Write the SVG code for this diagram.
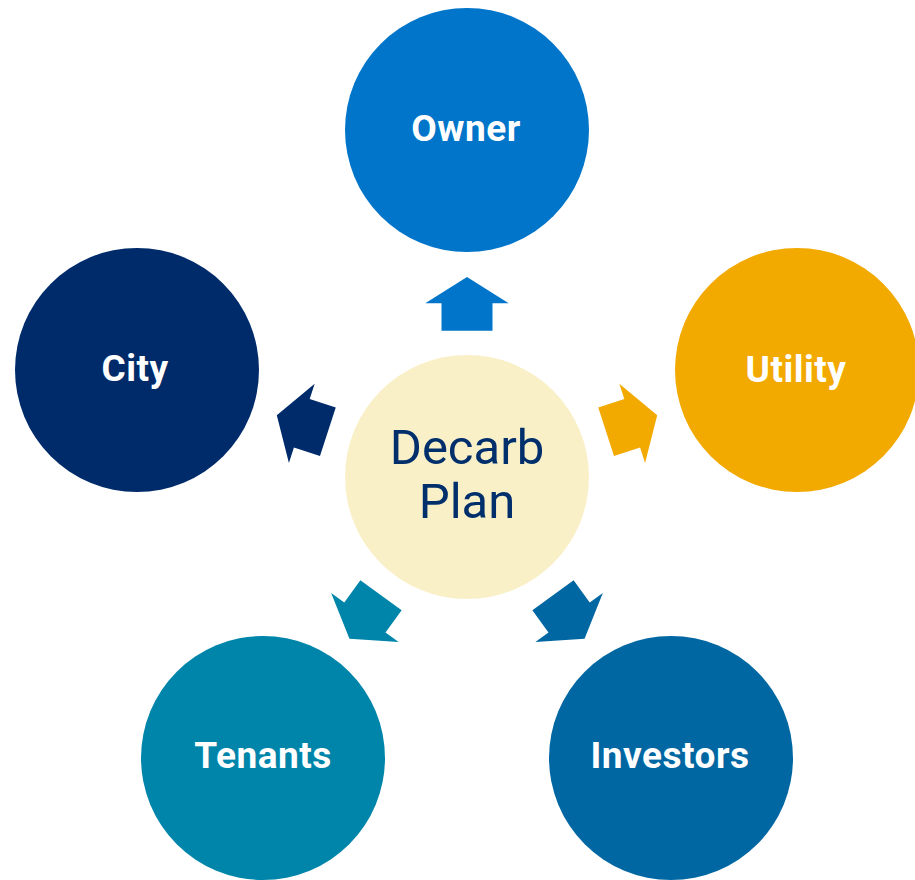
<svg xmlns="http://www.w3.org/2000/svg" width="915" height="880" viewBox="0 0 915 880">
<defs>
<style>
.lbl{font-family:Roboto,"Liberation Sans",sans-serif;font-weight:700;font-size:37px;letter-spacing:0.5px;fill:#fff;text-anchor:middle}
.ctr{font-family:Roboto,"Liberation Sans",sans-serif;font-size:49px;fill:#002F6C;text-anchor:middle}
</style>
<polygon id="arr" points="0,-200 41.7,-173.7 25.5,-173.7 25.5,-146.3 -25.5,-146.3 -25.5,-173.7 -41.7,-173.7"/>
</defs>
<rect width="915" height="880" fill="#fff"/>
<g id="connectors" transform="translate(467,477)">
<use href="#arr" fill="#0075C9"/>
<use href="#arr" fill="#F2A900" transform="rotate(72)"/>
<use href="#arr" fill="#0067A3" transform="rotate(144)"/>
<use href="#arr" fill="#0085AA" transform="rotate(216)"/>
<use href="#arr" fill="#002B6B" transform="rotate(288)"/>
</g>
<g id="center"><circle cx="467" cy="477" r="122" fill="#FAF0C8"/><text class="ctr" x="467" y="464">Decarb</text><text class="ctr" x="467" y="518">Plan</text></g>
<g id="owner"><circle cx="467" cy="130" r="122" fill="#0075C9"/><text class="lbl" x="466" y="141">Owner</text></g>
<g id="utility"><circle cx="797" cy="370" r="122" fill="#F2A900"/><text class="lbl" x="796" y="382">Utility</text></g>
<g id="investors"><circle cx="671" cy="758" r="122" fill="#0067A3"/><text class="lbl" x="670" y="768">Investors</text></g>
<g id="tenants"><circle cx="263" cy="758" r="122" fill="#0085AA"/><text class="lbl" x="263" y="768">Tenants</text></g>
<g id="city"><circle cx="137" cy="370" r="122" fill="#002B6B"/><text class="lbl" x="135" y="381">City</text></g>
</svg>
